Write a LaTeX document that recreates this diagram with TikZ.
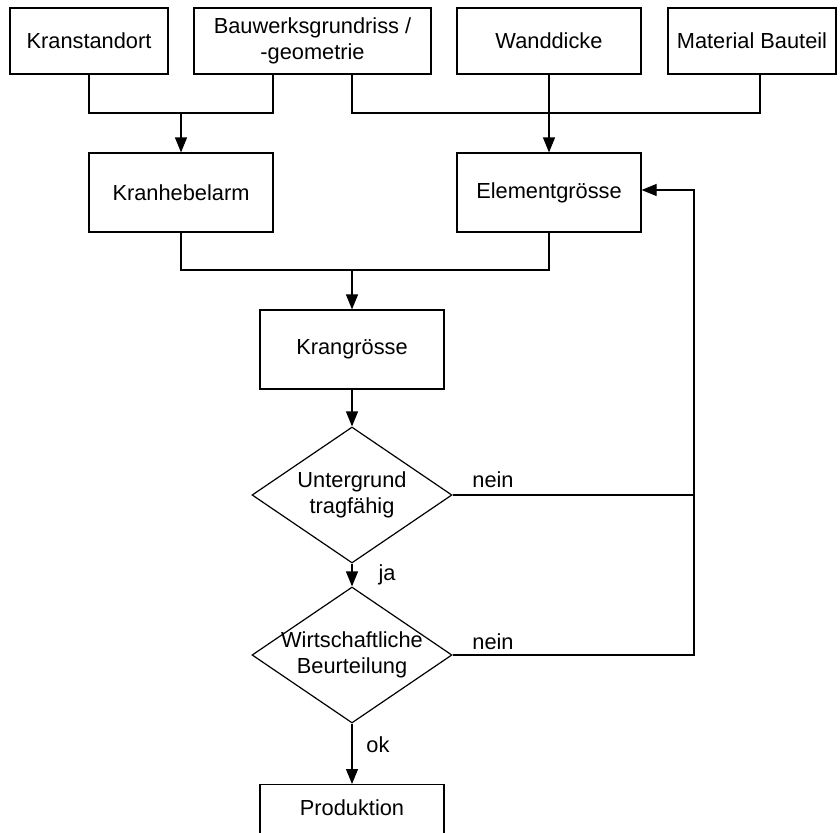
\documentclass[tikz,border=0pt]{standalone}
\usepackage{fontspec}
\setmainfont{Liberation Sans}
\usetikzlibrary{arrows.meta,shapes.geometric}
\tikzset{
  box/.style={draw, line width=1.2pt, inner sep=0pt, align=center, minimum width=184pt, minimum height=79pt, font=\fontsize{21.8}{26}\selectfont},
  dec/.style={draw, diamond, line width=1.2pt, inner sep=0pt, minimum width=200pt, minimum height=136pt, font=\fontsize{21.8}{26}\selectfont},
  conn/.style={line width=1.2pt},
  arr/.style={line width=1.2pt, -{Triangle[length=15pt,width=12pt]}},
  lbl/.style={inner sep=0pt, font=\fontsize{21.8}{26}\selectfont}
}
\newcommand{\dtext}[1]{\makebox[0pt]{\begin{tabular}{@{}c@{}}#1\end{tabular}}}
\begin{document}
\begin{tikzpicture}[x=1pt,y=-1pt]
\clip (0,0) rectangle (840,832);
\fill[white] (0,0) rectangle (840,832);
% top row
\node[box, minimum width=158pt, minimum height=66pt] (ks) at (89,41) {Kranstandort};
\node[box, minimum width=237pt, minimum height=66pt] (bw) at (312.5,41) {Bauwerksgrundriss /\\-geometrie};
\node[box, minimum height=66pt] (wd) at (549,41) {Wanddicke};
\node[box, minimum width=168pt, minimum height=66pt] (mb) at (752,41) {Material Bauteil};
% second row
\node[box] (kh) at (181,192.5) {Kranhebelarm};
\node[box] (el) at (549,192.5) {Elementgrösse};
\node[box] (kg) at (352,349.5) {Krangrösse};
\node[dec] (d1) at (352,495) {\dtext{Untergrund\\tragfähig}};
\node[dec] (d2) at (352,655) {\dtext{Wirtschaftliche\\Beurteilung}};
\node[box, minimum height=96pt, anchor=north, label={[lbl, anchor=center, yshift=-24pt]north:Produktion}] (prod) at (352,784) {};
% coordinates
\coordinate (bwA) at (273,74);
\coordinate (bwB) at (352,74);
\coordinate (mbA) at (760,74);
\coordinate (j1) at (181,113);
\coordinate (j2) at (549,113);
\coordinate (j3) at (352,270);
\coordinate (r) at (694,495);
% connectors
\draw[conn] (ks.south) -- (ks.south |- j1) -- (j1 -| bwA) -- (bwA);
\draw[arr] (j1) -- (kh.north);
\draw[conn] (bwB) -- (bwB |- j2) -- (j2 -| mbA) -- (mbA);
\draw[arr] (wd.south) -- (el.north);
\draw[conn] (kh.south) |- (j3) -| (el.south);
\draw[arr] (j3) -- (kg.north);
\draw[arr] (kg.south) -- (d1.north);
\draw[arr] (d1.south) -- (d2.north);
\draw[arr] (d2.south) -- (prod.north);
\draw[conn] (d1.east) -- (r);
\draw[arr] (d2.east) -| (r) |- ([yshift=2.5pt]el.east);
% labels
\node[lbl] (n1) at (493,480) {nein};
\node[lbl] (n2) at (493,642) {nein};
\node[lbl] (ja) at (387,575) {ja};
\node[lbl] (ok) at (378,745) {ok};
\end{tikzpicture}
\end{document}
